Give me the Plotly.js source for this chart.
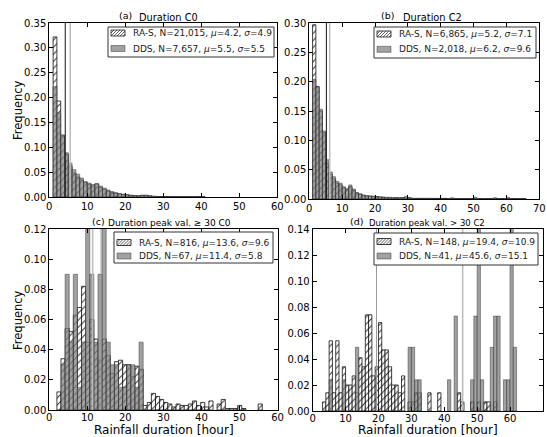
<!DOCTYPE html>
<html><head><meta charset="utf-8">
<script src="https://cdn.plot.ly/plotly-3.0.1.min.js"></script>
<style>html,body{margin:0;padding:0;background:#fff}#chart{width:547px;height:437px}</style>
</head><body><div id="chart"></div>
<script>
// ---------------- DATA ----------------
// (a) Duration C0 : bins of width 1 starting at 1
const aBinStart = 1, aBinWidth = 1;
const aRAS = [0.322,0.193,0.123,0.086,0.062,0.048,0.040,0.034,0.029,0.025,0.022,0.026,0.019,0.015,0.012,0.009,0.007,0.006,0.005,0.004,0.003,0.003,0.002,0.003,0.003,0.002,0.001,0.001,0.001,0.001,0.0005,0.0005,0.0005,0.0005,0.0005,0.0005,0.0005,0.0005,0.001,0.0005];
const aDDS = [0.222,0.169,0.125,0.089,0.068,0.055,0.046,0.038,0.031,0.028,0.025,0.027,0.022,0.018,0.014,0.011,0.009,0.007,0.006,0.005,0.004,0.003,0.003,0.004,0.004,0.003,0.002,0.001,0.001,0.001,0.0005,0.0005,0.0005,0,0,0,0,0,0.001,0];
// (b) Duration C2
const bBinStart = 1, bBinWidth = 1;
const bRAS = [0.297,0.192,0.150,0.113,0.060,0.042,0.034,0.027,0.024,0.019,0.016,0.021,0.015,0.010,0.008,0.006,0.005,0.005,0.004,0.004,0.003,0.003,0.002,0.002,0.002,0.002,0.002,0.002,0.003,0.002,0.001,0.001,0.001,0.001,0.001,0.001,0.001,0.001,0.001,0.001,0.001,0.0005,0.001,0.0005,0.0005,0.0005,0.0005,0.0005,0.0005,0.001,0.0005,0.0005,0.0005,0.0005,0.0005,0.001,0.0005,0.0005,0.0005,0.001,0.0005,0.0005,0.0005,0.0005,0.0005];
const bDDS = [0.204,0.190,0.153,0.116,0.067,0.046,0.038,0.030,0.027,0.021,0.018,0.024,0.017,0.011,0.009,0.007,0.006,0.005,0.005,0.004,0.004,0.003,0.003,0.003,0.002,0.002,0.002,0.002,0.004,0.002,0.001,0.001,0.001,0.001,0.001,0,0.001,0,0,0,0,0,0.002,0,0,0,0,0,0,0.003,0,0,0,0,0,0.002,0,0,0,0.003,0,0,0,0,0];
// (c) Duration peak val >= 30 C0 : 50 bins from 2 to 56
const cBinStart = 2, cBinWidth = 1.08;
const cRAS = [0.012,0.034,0.054,0.052,0.063,0.068,0.082,0.045,0.060,0.047,0.033,0.047,0.036,0.024,0.032,0.033,0.030,0.030,0.022,0.029,0.027,0.003,0.005,0.011,0.009,0.007,0.005,0.004,0.002,0.004,0.003,0.003,0.004,0.006,0.003,0.005,0.002,0.006,0,0.004,0.007,0.001,0.001,0.001,0.003,0.001,0,0,0,0.004];
const cDDS = [0,0.030,0.090,0.045,0.090,0.015,0.045,0.134,0.090,0.045,0.090,0.134,0.045,0.030,0.030,0.015,0.015,0.030,0.030,0.015,0.045];
// (d) Duration peak val > 30 C2 : bins of width 1 from 0
const dBinStart = 0, dBinWidth = 1;
const dRAS = [0,0,0,0.007,0.014,0.054,0.014,0.054,0.014,0.034,0.020,0.020,0.027,0.014,0.041,0.034,0.074,0.074,0.027,0.034,0.068,0.047,0.047,0.034,0.020,0.020,0.014,0.027,0,0.007,0.007,0.014,0.014,0,0,0.014,0,0,0.014,0,0,0,0,0,0.014,0.007,0,0,0.007,0,0.007,0,0.007,0.007,0,0.007,0,0,0,0,0,0,0];
const dDDS = [0,0,0,0,0,0.024,0,0,0,0.024,0,0,0,0.049,0,0,0,0,0,0,0,0,0,0,0,0,0,0,0,0.049,0.049,0.024,0.024,0,0,0,0,0,0,0,0,0.024,0,0.073,0,0,0,0,0.024,0.073,0.146,0.024,0,0,0.049,0.073,0.073,0,0.024,0.024,0.146,0.049,0];
// summary statistics
const panelLetters = ["(a)","(b)","(c)","(d)"];
const panelTitles = ["Duration C0","Duration C2","Duration peak val. \u2265 30 C0","Duration peak val. > 30 C2"];
const nRAS = ["21,015","6,865","816","148"];
const nDDS = ["7,657","2,018","67","41"];
const meanRAS = [4.2, 5.2, 13.6, 19.4];
const sdRAS = [4.9, 7.1, 9.6, 10.9];
const meanDDS = [5.5, 6.2, 11.4, 45.6];
const sdDDS = [5.5, 9.6, 5.8, 15.1];
const xMax = [60, 70, 60, 70];
const yMax = [0.35, 0.30, 0.12, 0.14];
const yStep = [0.05, 0.05, 0.02, 0.02];

// ---------------- LAYOUT HELPERS ----------------
const W = 547, H = 437;
const px = x => x / W, py = y => 1 - y / H;
// axes boxes in pixels [left, right, top, bottom]
const boxes = [[49.3,277.3,23,197],[309.3,539.3,23,199],[49.3,277.5,229,410],[312.7,542.9,229,411]];
// legend boxes [left,right,top,bottom,row1,row2]
const legBoxes = [[108,274,27,57,33,48.5],[374,536,27,58,34,49.3],[114,273,232,263,242.5,256],[374,538,233,265,241.5,256]];
// [letter x, title x, letter y, title y, title size]
const titlePos = [[125,168.5,15,17.5,9.8],[387,432.5,15,17.5,9.8],[98.5,169.5,221,223,9],[356.5,426.5,221,223,8.5]];

const FONT = "DejaVu Sans, sans-serif";
const bins = [[aBinStart,aBinWidth,aRAS,aDDS],[bBinStart,bBinWidth,bRAS,bDDS],[cBinStart,cBinWidth,cRAS,cDDS],[dBinStart,dBinWidth,dRAS,dDDS]];

const traces = [];
const layout = {
  width: W, height: H, margin: {l:0,r:0,t:0,b:0},
  paper_bgcolor: "#fff", plot_bgcolor: "#fff",
  barmode: "overlay", showlegend: false,
  font: {family: FONT, size: 10, color: "#000"},
  shapes: [], annotations: []
};

function barsFrom(start, width, vals) {
  const x = [], y = [];
  vals.forEach((v, i) => { if (v > 0) { x.push(start + width * (i + 0.5)); y.push(v); } });
  return {x, y};
}

bins.forEach((b, k) => {
  const [start, width, ras, dds] = b;
  const sfx = k === 0 ? "" : String(k + 1);
  const xa = "x" + sfx, ya = "y" + sfx;
  const r = barsFrom(start, width, ras), d = barsFrom(start, width, dds);
  traces.push({type: "bar", x: r.x, y: r.y, width: width, xaxis: xa, yaxis: ya,
    marker: {color: "white", line: {color: "#111", width: 0.8},
      pattern: {shape: "/", fgcolor: "#222", bgcolor: "white", size: 5, solidity: 0.18}},
    hoverinfo: "skip"});
  traces.push({type: "bar", x: d.x, y: d.y, width: width, xaxis: xa, yaxis: ya,
    marker: {color: "rgba(125,125,125,0.72)", line: {color: "rgba(50,50,50,0.8)", width: 0.6}},
    hoverinfo: "skip"});
  const [l, rgt, t, bt] = boxes[k];
  const axCommon = {showgrid: false, zeroline: false, showline: true, linecolor: "#000", linewidth: 1,
    mirror: "ticks", ticks: "inside", ticklen: 4, tickwidth: 1, tickcolor: "#000",
    tickfont: {family: FONT, size: 10, color: "#000"}};
  layout["xaxis" + sfx] = Object.assign({}, axCommon, {domain: [px(l), px(rgt)], range: [0, xMax[k]],
    dtick: 10, tick0: 0, anchor: ya, ticklabelstandoff: k < 2 ? 0 : -2});
  layout["yaxis" + sfx] = Object.assign({}, axCommon, {domain: [py(bt), py(t)], range: [0, yMax[k]],
    dtick: yStep[k], tick0: 0, tickformat: ".2f", anchor: xa});
  // mean lines
  const yref = ya + " domain";
  const rasCol = k < 2 ? "#111" : "#999";
  const ddsCol = "#bbb";
  layout.shapes.push({type: "line", xref: xa, yref: yref, x0: meanRAS[k], x1: meanRAS[k], y0: 0, y1: 1,
    line: {color: rasCol, width: 1}});
  layout.shapes.push({type: "line", xref: xa, yref: yref, x0: meanDDS[k], x1: meanDDS[k], y0: 0, y1: 1,
    line: {color: ddsCol, width: 1.5}});
  // legend box
  const [lx0, lx1, ly0, ly1, r1, r2] = legBoxes[k];
  layout.shapes.push({type: "rect", xref: "paper", yref: "paper", x0: px(lx0), x1: px(lx1), y0: py(ly1), y1: py(ly0),
    fillcolor: "white", line: {color: "#333", width: 1}});
  const sx0 = lx0 + 3, sx1 = sx0 + 14;
  // hatched swatch
  layout.shapes.push({type: "rect", xref: "paper", yref: "paper", x0: px(sx0), x1: px(sx1), y0: py(r1 + 3), y1: py(r1 - 3),
    fillcolor: "white", line: {color: "#111", width: 0.8}});
  let path = "";
  for (let s = -6; s <= 14; s += 3) {
    const tmin = Math.max(0, -s / 6), tmax = Math.min(1, (14 - s) / 6);
    if (tmax - tmin > 0.05) {
      const xA = sx0 + s + 6 * tmin, yA = r1 + 3 - 6 * tmin;
      const xB = sx0 + s + 6 * tmax, yB = r1 + 3 - 6 * tmax;
      path += `M${px(xA)},${py(yA)}L${px(xB)},${py(yB)}`;
    }
  }
  layout.shapes.push({type: "path", xref: "paper", yref: "paper", path: path, line: {color: "#222", width: 0.7}});
  // gray swatch
  layout.shapes.push({type: "rect", xref: "paper", yref: "paper", x0: px(sx0), x1: px(sx1), y0: py(r2 + 3), y1: py(r2 - 3),
    fillcolor: "rgba(125,125,125,0.72)", line: {color: "rgba(50,50,50,0.8)", width: 0.6}});
  const tx = sx1 + 6;
  layout.annotations.push({xref: "paper", yref: "paper", x: px(tx), y: py(r1), xanchor: "left", yanchor: "middle",
    showarrow: false, font: {family: FONT, size: 9, color: "#222"},
    text: `RA-S, N=${nRAS[k]}, <i>\u03bc</i>=${meanRAS[k].toFixed(1)}, <i>\u03c3</i>=${sdRAS[k].toFixed(1)}`});
  layout.annotations.push({xref: "paper", yref: "paper", x: px(tx), y: py(r2), xanchor: "left", yanchor: "middle",
    showarrow: false, font: {family: FONT, size: 9, color: "#222"},
    text: `DDS, N=${nDDS[k]}, <i>\u03bc</i>=${meanDDS[k].toFixed(1)}, <i>\u03c3</i>=${sdDDS[k].toFixed(1)}`});
  // titles
  const [lxp, txp, lyp, typ, tsz] = titlePos[k];
  layout.annotations.push({xref: "paper", yref: "paper", x: px(lxp), y: py(lyp), xanchor: "center", yanchor: "middle",
    showarrow: false, font: {family: FONT, size: 9.5, color: "#000"}, text: panelLetters[k]});
  layout.annotations.push({xref: "paper", yref: "paper", x: px(txp), y: py(typ), xanchor: "center", yanchor: "middle",
    showarrow: false, font: {family: FONT, size: tsz, color: "#000"}, text: panelTitles[k]});
});

// axis titles
[[18, 110], [18, 320]].forEach(p => layout.annotations.push({xref: "paper", yref: "paper", x: px(p[0]), y: py(p[1]),
  xanchor: "center", yanchor: "middle", textangle: -90, showarrow: false,
  font: {family: FONT, size: 11.5, color: "#000"}, text: "Frequency"}));
[[163.5, 429.5], [428, 429.5]].forEach(p => layout.annotations.push({xref: "paper", yref: "paper", x: px(p[0]), y: py(p[1]),
  xanchor: "center", yanchor: "middle", showarrow: false,
  font: {family: FONT, size: 12, color: "#000"}, text: "Rainfall duration [hour]"}));

Plotly.newPlot("chart", traces, layout, {staticPlot: true, displayModeBar: false});
</script></body></html>
